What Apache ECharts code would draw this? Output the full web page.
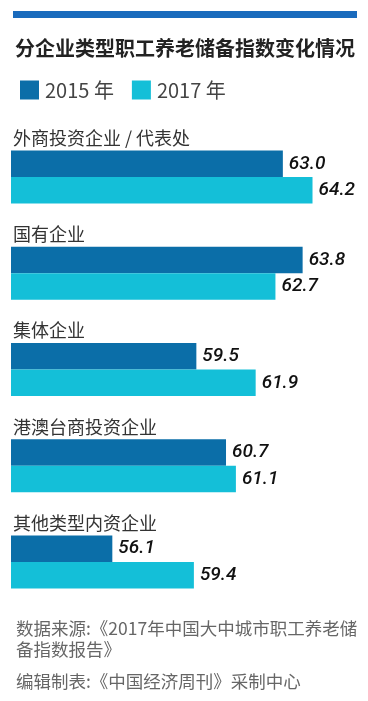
<!DOCTYPE html>
<html>
<head>
<meta charset="utf-8">
<style>html,body{margin:0;padding:0;background:#fff;}#c{width:368px;height:701px;}</style>
<script src="https://cdn.jsdelivr.net/npm/echarts@6/dist/echarts.min.js"></script>
</head>
<body>
<div id="c"></div>
<script>
const titleText = '分企业类型职工养老储备指数变化情况';
const categories = ['外商投资企业 / 代表处', '国有企业', '集体企业', '港澳台商投资企业', '其他类型内资企业'];
const seriesNames = ['2015 年', '2017 年'];
const values2015 = [63.0, 63.8, 59.5, 60.7, 56.1];
const values2017 = [64.2, 62.7, 61.9, 61.1, 59.4];
const footerLines = ['数据来源:《2017年中国大中城市职工养老储', '备指数报告》', '编辑制表:《中国经济周刊》采制中心'];

const colors = ['#0b6ea8', '#14bfd8'];
const chart = echarts.init(document.getElementById('c'), null, {renderer: 'canvas'});
const valueLabel = {
  show: true, position: 'right', distance: 6,
  fontFamily: 'Roboto', fontStyle: 'italic', fontWeight: 500, fontSize: 19, color: '#111',
  formatter: p => p.value.toFixed(1)
};
chart.setOption({
  animation: false,
  backgroundColor: '#fff',
  graphic: [{ type: 'rect', shape: {x: 13, y: 11, width: 344, height: 7}, style: {fill: '#1a6bbd'} }],
  title: [
    { text: titleText, left: 10, top: 33, textStyle: {fontFamily: 'Noto Sans CJK SC', fontWeight: 'bold', fontSize: 20, color: '#222'} },
    { text: footerLines[0] + '\n' + footerLines[1], left: 11, top: 613,
      textStyle: {fontFamily: 'Noto Sans CJK SC', fontWeight: 'normal', fontSize: 17.5, color: '#666', lineHeight: 21} },
    { text: footerLines[2], left: 11, top: 666,
      textStyle: {fontFamily: 'Noto Sans CJK SC', fontWeight: 'normal', fontSize: 17.5, color: '#666', lineHeight: 21} }
  ],
  legend: {
    left: 15, top: 75, itemWidth: 19, itemHeight: 19, itemGap: 18, icon: 'rect',
    textStyle: {fontFamily: 'Noto Sans CJK SC', fontSize: 20, color: '#444', padding: [0,0,0,1]},
    data: seriesNames
  },
  grid: { left: 11, right: 11, top: 129, height: 481, containLabel: false },
  xAxis: { type: 'value', min: 52, max: 66, show: false },
  yAxis: {
    type: 'category', inverse: true, data: categories,
    axisLine: {show: false}, axisTick: {show: false}, splitLine: {show: false},
    axisLabel: {
      inside: true, margin: 2, align: 'left', verticalAlign: 'bottom',
      padding: [0, 0, 30, 0],
      fontFamily: 'Noto Sans CJK SC', fontSize: 18, color: '#333'
    }
  },
  series: [
    { name: seriesNames[0], type: 'bar', data: values2015, barWidth: 26.5, barGap: '0%', itemStyle: {color: colors[0]}, label: valueLabel },
    { name: seriesNames[1], type: 'bar', data: values2017, barWidth: 26.5, barGap: '0%', itemStyle: {color: colors[1]}, label: valueLabel }
  ]
});
</script>
</body>
</html>
